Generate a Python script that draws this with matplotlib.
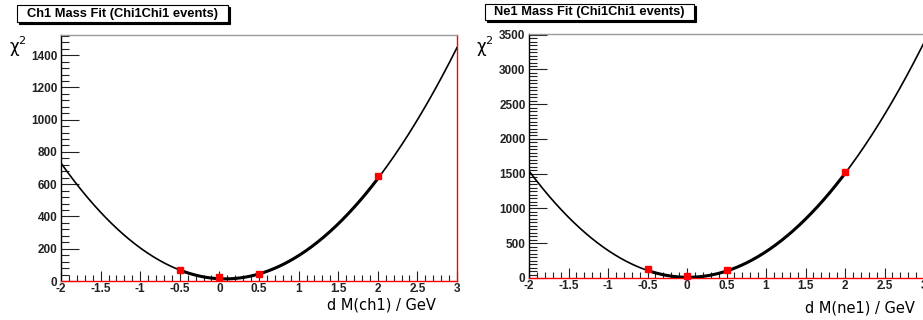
import numpy as np
import matplotlib
matplotlib.use("Agg")
import matplotlib.pyplot as plt
from matplotlib.ticker import MultipleLocator
from matplotlib.patches import Rectangle

# ---- data ----
x_pts = [-0.5, 0.0, 0.5, 2.0]
ch1_chi2 = [68, 22, 45, 650]
ne1_chi2 = [125, 25, 120, 1527]
# pol2 fit parameters (p0, p1, p2)
ch1_fit = [14.0, -24.0, 167.2]
ne1_fit = [10.0, -9.0, 378.0]
ch1_title = "Ch1 Mass Fit (Chi1Chi1 events)"
ne1_title = "Ne1 Mass Fit (Chi1Chi1 events)"
ch1_xlabel = "d M(ch1) / GeV"
ne1_xlabel = "d M(ne1) / GeV"
x_range = (-2, 3)

W, H = 923, 320
fig = plt.figure(figsize=(W / 100, H / 100), dpi=100)
fig.patch.set_facecolor("white")

def fx(px):
    return px / W

def fy(py):
    return 1 - py / H

def panel(left, right, top, bottom, ymax, ymajor, yminor, pts, fit, title,
          xlabel, box, xlab_pos, chi_x):
    ax = fig.add_axes([fx(left), fy(bottom), fx(right - left), (bottom - top) / H])
    xx = np.linspace(x_range[0], x_range[1], 400)
    yy = fit[0] + fit[1] * xx + fit[2] * xx ** 2
    ax.plot(xx, yy, color="black", lw=1.2, zorder=3)
    xs = np.linspace(min(x_pts), max(x_pts), 200)
    ys = fit[0] + fit[1] * xs + fit[2] * xs ** 2
    ax.plot(xs, ys, color="black", lw=2.2, zorder=3)
    ax.plot(x_pts, pts, "s", color="red", ms=5, mec="red", zorder=4,
            clip_on=False)
    ax.set_xlim(*x_range)
    ax.set_ylim(0, ymax)
    ax.xaxis.set_major_locator(MultipleLocator(0.5))
    ax.xaxis.set_minor_locator(MultipleLocator(0.1))
    ax.yaxis.set_major_locator(MultipleLocator(ymajor))
    ax.yaxis.set_minor_locator(MultipleLocator(yminor))
    ax.tick_params(axis="x", which="major", direction="in", length=7, width=0.8,
                   pad=1.5, labelsize=8.5, colors="#222222")
    ax.tick_params(axis="x", which="minor", direction="in", length=4, width=0.8,
                   colors="#222222")
    ax.tick_params(axis="y", which="major", direction="in", length=13, width=0.8,
                   pad=2.5, labelsize=8.5, colors="#222222")
    ax.tick_params(axis="y", which="minor", direction="in", length=6, width=0.8,
                   colors="#222222")
    ax.xaxis.set_major_formatter(matplotlib.ticker.FuncFormatter(
        lambda v, p: ("%g" % v)))
    for lab in ax.get_xticklabels() + ax.get_yticklabels():
        lab.set_fontweight("bold")
        lab.set_family("Liberation Sans")
    ax.spines["bottom"].set_color("red")
    ax.spines["right"].set_color("red")
    ax.spines["top"].set_color("#999999")
    ax.spines["left"].set_color("black")
    for s in ax.spines.values():
        s.set_linewidth(1.0)
    ax.set_xlabel(xlabel, fontsize=10.5, family="DejaVu Sans", ha="right",
                  va="center")
    ax.xaxis.set_label_coords(*xlab_pos)
    # chi^2 label
    fig.text(fx(chi_x), fy(47), "\u03c7", fontsize=12, family="DejaVu Sans",
             ha="left", va="center")
    fig.text(fx(chi_x + 9), fy(41), "2", fontsize=8, family="DejaVu Sans",
             ha="left", va="center")
    # title box with shadow
    bl, br, bt, bb = box
    fig.patches.append(Rectangle((fx(bl + 2), fy(bb + 2)), fx(br - bl), (bb - bt) / H,
                                 transform=fig.transFigure, facecolor="black",
                                 edgecolor="black", lw=0.8))
    fig.patches.append(Rectangle((fx(bl), fy(bb)), fx(br - bl), (bb - bt) / H,
                                 transform=fig.transFigure, facecolor="white",
                                 edgecolor="black", lw=0.8))
    fig.text(fx((bl + br) / 2), fy((bt + bb) / 2), title, fontsize=9.3,
             fontweight="bold", family="Liberation Sans", ha="center", va="center")
    return ax

panel(61, 457, 35, 281, 1525, 200, 40, ch1_chi2, ch1_fit, ch1_title, ch1_xlabel,
      (17, 228, 5, 22), (0.947, -0.098), 9)
panel(529, 924, 34, 278, 3510, 500, 50, ne1_chi2, ne1_fit, ne1_title, ne1_xlabel,
      (485, 694, 4, 20), (0.977, -0.123), 476)

fig.savefig("out.png", dpi=100)
